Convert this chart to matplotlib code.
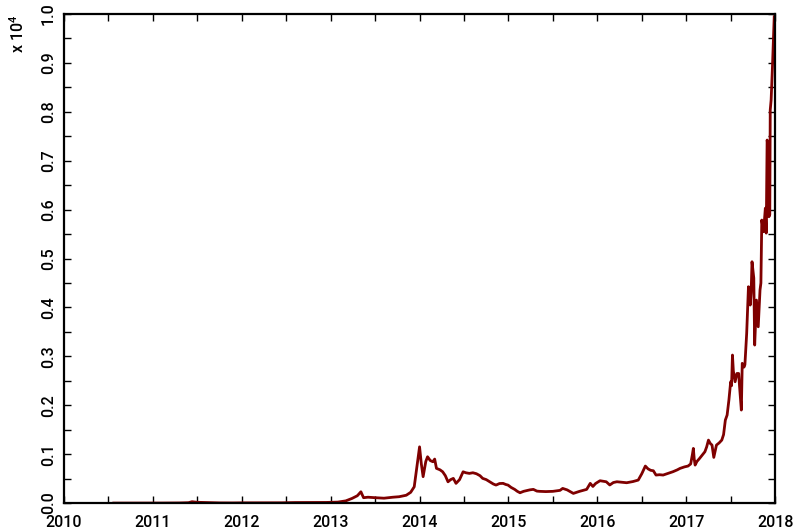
import matplotlib
matplotlib.use('Agg')
import matplotlib.pyplot as plt
from matplotlib.ticker import MultipleLocator, FixedLocator
import numpy as np

plt.rcParams['font.family'] = ['Roboto', 'DejaVu Sans']
plt.rcParams['font.weight'] = 'medium'
plt.rcParams['mathtext.default'] = 'regular'

# price history, decimal year vs USD
years = [
    2010.56, 2010.75, 2010.9, 2011.1, 2011.3, 2011.4, 2011.44, 2011.5, 2011.6, 2011.75,
    2011.9, 2012.0, 2012.2, 2012.45, 2012.6, 2012.75, 2012.95, 2013.08, 2013.17, 2013.24,
    2013.3, 2013.34, 2013.37, 2013.42, 2013.5, 2013.6, 2013.7, 2013.77, 2013.85, 2013.9,
    2013.94, 2013.98, 2014.0, 2014.02, 2014.04, 2014.07, 2014.09, 2014.12, 2014.15, 2014.17,
    2014.19, 2014.23, 2014.26, 2014.29, 2014.32, 2014.35, 2014.38, 2014.41, 2014.45, 2014.49,
    2014.52, 2014.56, 2014.6, 2014.64, 2014.68, 2014.71, 2014.75, 2014.79, 2014.83, 2014.86,
    2014.9, 2014.94, 2014.97, 2014.995, 2015.03, 2015.07, 2015.1, 2015.13, 2015.17, 2015.2,
    2015.24, 2015.28, 2015.32, 2015.35, 2015.42, 2015.5, 2015.58, 2015.61, 2015.66, 2015.73,
    2015.8, 2015.88, 2015.92, 2015.95, 2015.98, 2016.03, 2016.1, 2016.14, 2016.18, 2016.22,
    2016.28, 2016.33, 2016.4, 2016.46, 2016.5, 2016.54, 2016.57, 2016.6, 2016.63, 2016.66,
    2016.7, 2016.74, 2016.8, 2016.85, 2016.9, 2016.93, 2016.98, 2017.02, 2017.05, 2017.07,
    2017.08, 2017.09, 2017.1, 2017.12, 2017.15, 2017.18, 2017.21, 2017.23, 2017.25, 2017.27,
    2017.29, 2017.31, 2017.34, 2017.37, 2017.4, 2017.42, 2017.44, 2017.46, 2017.48, 2017.5,
    2017.51, 2017.52, 2017.53, 2017.55, 2017.57, 2017.59, 2017.6, 2017.62, 2017.63, 2017.65,
    2017.66, 2017.68, 2017.70, 2017.72, 2017.73, 2017.74, 2017.76, 2017.77, 2017.79, 2017.81,
    2017.83, 2017.84, 2017.85, 2017.87, 2017.89, 2017.9, 2017.91, 2017.92, 2017.93, 2017.94,
    2017.945, 2017.955, 2017.97, 2017.99,
]
price = [
    0.06, 0.1, 0.25, 0.9, 3, 8, 28, 16, 12, 4,
    3, 5, 5, 6, 11, 12, 13, 20, 45, 95,
    150, 231, 110, 120, 110, 100, 120, 130, 160, 220,
    333, 880, 1150, 800, 540, 850, 947, 870, 845, 900,
    710, 680, 640, 560, 435, 480, 505, 403, 480, 640,
    620, 607, 620, 600, 560, 505, 480, 435, 390, 368,
    400, 403, 380, 368, 320, 280, 240, 211, 240, 252,
    270, 280, 245, 240, 235, 240, 260, 300, 270, 198,
    240, 280, 403, 340, 400, 457, 436, 370, 420, 436,
    425, 416, 440, 470, 600, 757, 700, 670, 661, 573,
    580, 573, 610, 641, 680, 709, 740, 757, 800, 1000,
    1118, 900, 777, 850, 913, 980, 1050, 1150, 1288, 1220,
    1186, 934, 1186, 1230, 1288, 1400, 1697, 1800, 2106, 2481,
    2400, 3027, 2700, 2481, 2650, 2650, 2380, 1902, 2857, 2780,
    2830, 3470, 4424, 4049, 4300, 4935, 4600, 3231, 4151, 3605,
    4356, 4500, 5787, 5548, 6030, 5520, 7423, 7300, 5855, 5900,
    8037, 8241, 8923, 9945,
]
year_ticks = [2010, 2011, 2012, 2013, 2014, 2015, 2016, 2017, 2018]

fig = plt.figure(figsize=(7.95, 5.29), dpi=100)
ax = fig.add_axes([0.0805, 0.049, 0.8945, 0.9245])

ax.plot(years, np.array(price) / 1e4, color='#7f0000', lw=2.0)

ax.set_xlim(2010, 2018)
ax.set_ylim(0, 1.0)
ax.xaxis.set_major_locator(FixedLocator(year_ticks))
ax.xaxis.set_minor_locator(MultipleLocator(0.5))
ax.set_xticklabels([str(y) for y in year_ticks])
ax.yaxis.set_major_locator(MultipleLocator(0.1))
ax.yaxis.set_minor_locator(MultipleLocator(0.05))
ax.yaxis.set_major_formatter(plt.FormatStrFormatter('%.1f'))

ax.tick_params(which='both', direction='in', top=True, right=True,
               length=5, width=1, labelsize=11.5)
ax.tick_params(axis='x', pad=8.5)
ax.tick_params(axis='y', pad=6)
for lab in ax.get_yticklabels():
    lab.set_rotation(90)
    lab.set_va('center')
for sp in ax.spines.values():
    sp.set_linewidth(1.6)

fig.text(18 / 795, 1 - 34 / 529, r'x 10$^4$', rotation=90,
         ha='center', va='center', fontsize=11.5)

fig.savefig('out.png', dpi=100)
